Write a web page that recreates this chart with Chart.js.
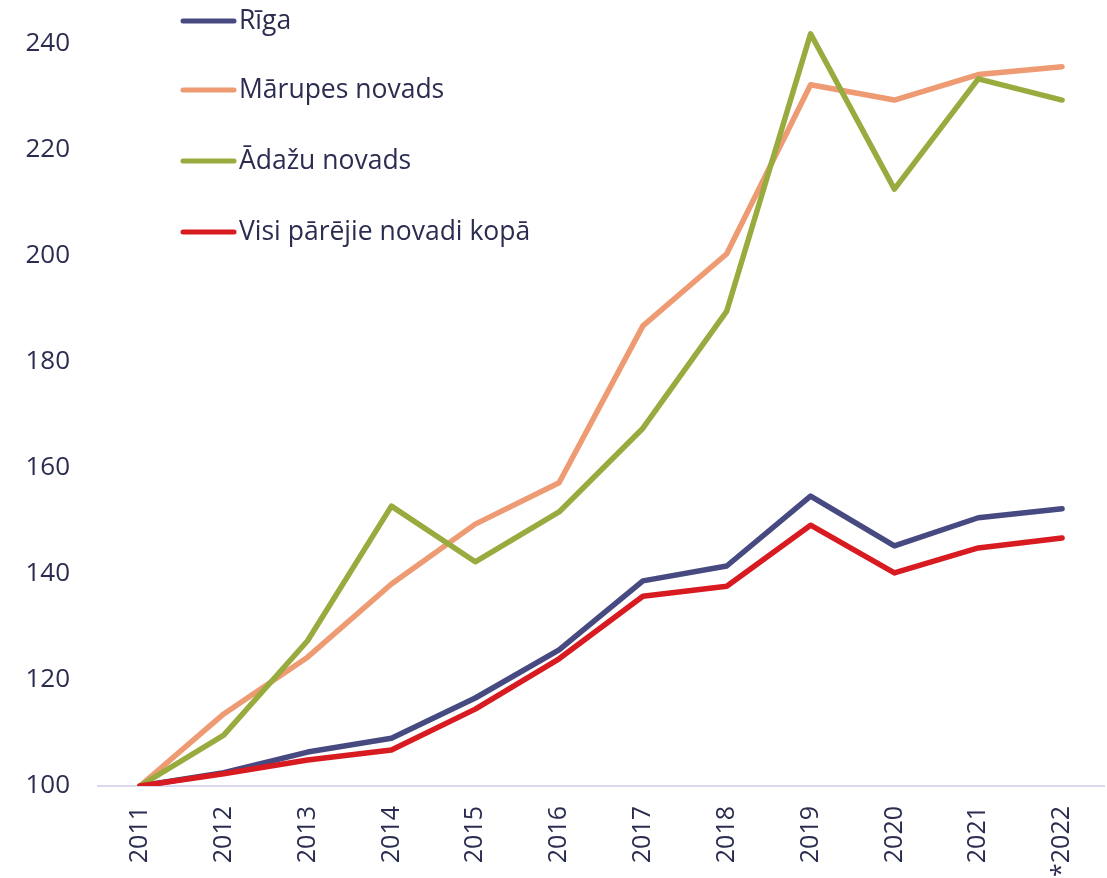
<!DOCTYPE html>
<html>
<head>
<meta charset="utf-8">
<script src="https://cdn.jsdelivr.net/npm/chart.js@4/dist/chart.umd.min.js"></script>
<style>
  body { margin: 0; background: #fff; }
  #wrap { width: 1107px; height: 878px; }
</style>
</head>
<body>
<div id="wrap"><canvas id="priceChart" width="1107" height="878"></canvas></div>
<script>
// Categories and values
const years = ['2011', '2012', '2013', '2014', '2015', '2016', '2017', '2018', '2019', '2020', '2021', '*2022'];
const riga = [100, 102.5, 106.4, 109, 116.6, 125.7, 138.7, 141.5, 154.7, 145.3, 150.6, 152.3];
const marupe = [100, 113.6, 124.3, 138.1, 149.4, 157.2, 186.8, 200.4, 232.3, 229.4, 234.2, 235.7];
const adazi = [100, 109.6, 127.4, 152.8, 142.3, 151.7, 167.5, 189.6, 241.9, 212.6, 233.4, 229.4];
const other = [100, 102.3, 104.9, 106.8, 114.5, 124, 135.8, 137.7, 149.2, 140.2, 144.9, 146.8];
const yTicks = [100, 120, 140, 160, 180, 200, 220, 240];

const textColor = '#2b2d50';
const fontFamily = "'Open Sans', 'Noto Sans', sans-serif";

function line(label, data, color, order) {
    return {
        label: label,
        data: data,
        borderColor: color,
        backgroundColor: color,
        borderWidth: 5.5,
        pointRadius: 0,
        tension: 0,
        borderCapStyle: 'round',
        borderJoinStyle: 'round',
        order: order
    };
}

// Legend drawn inside the plot, one item per row
const legendInPlot = {
    id: 'legendInPlot',
    afterDraw(chart) {
        const ctx = chart.ctx;
        const rows = [21, 90, 161, 232];
        ctx.save();
        ctx.font = '26.5px ' + fontFamily;
        ctx.textBaseline = 'middle';
        chart.data.datasets.forEach((ds, i) => {
            const y = rows[i];
            ctx.strokeStyle = ds.borderColor;
            ctx.lineWidth = 5;
            ctx.lineCap = 'round';
            ctx.beginPath();
            ctx.moveTo(183, y);
            ctx.lineTo(234, y);
            ctx.stroke();
            ctx.fillStyle = textColor;
            ctx.fillText(ds.label, 239, y);
        });
        ctx.restore();
    }
};

new Chart(document.getElementById('priceChart'), {
    type: 'line',
    data: {
        labels: years,
        datasets: [
            line('Rīga', riga, '#474a80', 4),
            line('Mārupes novads', marupe, '#ee9a72', 3),
            line('Ādažu novads', adazi, '#98ab3e', 2),
            line('Visi pārējie novadi kopā', other, '#d81b20', 1)
        ]
    },
    options: {
        responsive: false,
        animation: false,
        layout: { padding: { top: 20, right: 3, left: 0, bottom: 0 } },
        plugins: {
            legend: { display: false },
            tooltip: { enabled: false }
        },
        scales: {
            x: {
                offset: true,
                grid: { display: false, drawTicks: false },
                border: { display: true, color: '#d8d8ee', width: 2 },
                ticks: {
                    color: textColor,
                    font: { family: fontFamily, size: 25 },
                    minRotation: 90,
                    maxRotation: 90,
                    padding: 20
                },
                afterFit(scale) {
                    scale.height = 92;
                    scale.paddingLeft = 0;
                    scale.paddingRight = 0;
                }
            },
            y: {
                min: 100,
                max: 244.5,
                grid: { display: false, drawTicks: false },
                border: { display: false },
                ticks: {
                    color: textColor,
                    font: { family: fontFamily, size: 26 },
                    padding: 28
                },
                afterBuildTicks(scale) {
                    scale.ticks = yTicks.map(v => ({ value: v }));
                },
                afterFit(scale) {
                    scale.width = 98;
                    scale.paddingTop = 0;
                    scale.paddingBottom = 0;
                }
            }
        }
    },
    plugins: [legendInPlot]
});
</script>
</body>
</html>
